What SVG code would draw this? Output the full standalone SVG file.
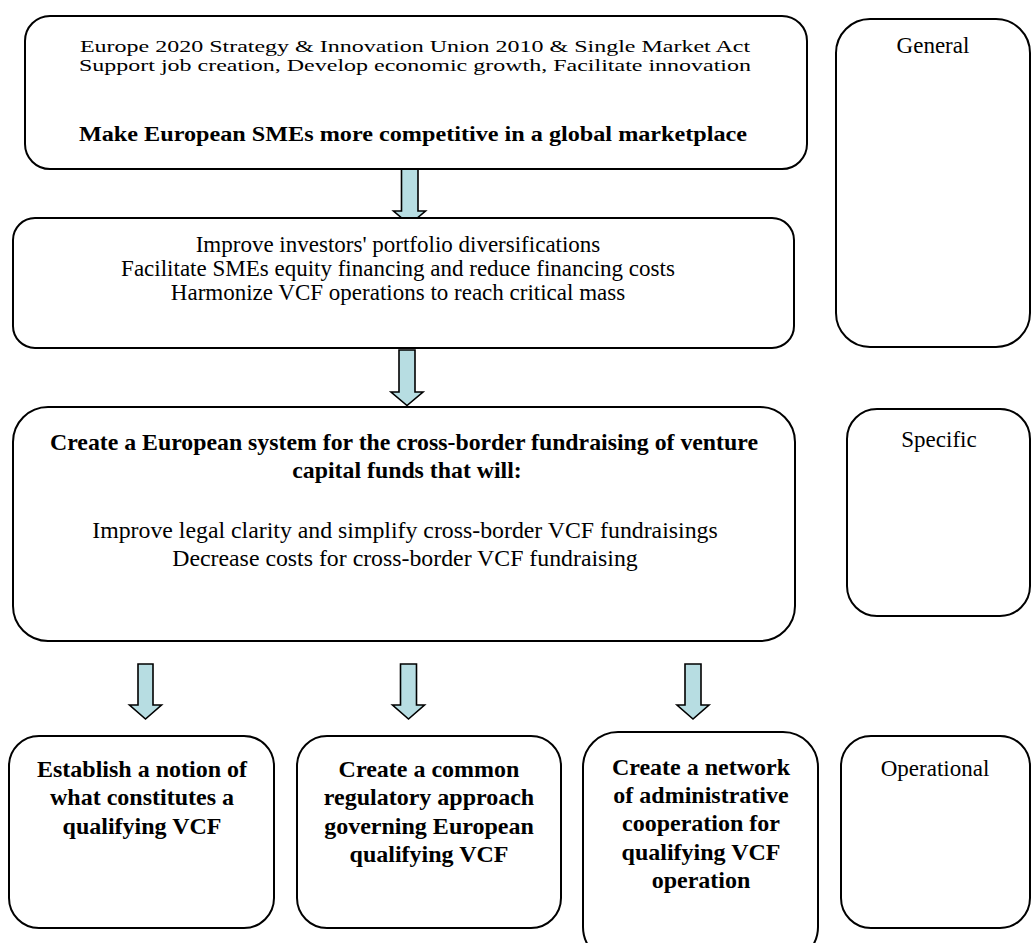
<svg xmlns="http://www.w3.org/2000/svg" width="1036" height="943" viewBox="0 0 1036 943">
<defs>
<style>
.box{fill:#fff;stroke:#000;stroke-width:2}
.arr{fill:#b7dde2;stroke:#000;stroke-width:1.6;stroke-linejoin:miter}
text{font-family:"Liberation Serif","Times New Roman",serif;fill:#000;text-anchor:middle}
.r{font-size:23px}
.b{font-size:24px;font-weight:bold}
.m{font-size:23.8px}
.mb{font-size:23.8px;font-weight:bold}
.top{font-size:16.5px}
</style>
</defs>
<rect width="1036" height="943" fill="#fff"/>
<g id="connectors">
<path class="arr" d="M401.5,169H418V211H425.5L409.5,224.5L393.5,211H401.5Z"/>
<path class="arr" d="M399,350H415V392H423L407,405.5L391,392H399Z"/>
<path class="arr" d="M138,664H153V705H161.5L145.5,719L129.5,705H138Z"/>
<path class="arr" d="M400.5,664H416.5V705H424.5L408.5,719L392.5,705H400.5Z"/>
<path class="arr" d="M685,664H701V705H709L693,719L677,705H685Z"/>
</g>
<g id="general-goal">
<rect class="box" x="25" y="16" width="782" height="153" rx="25"/>
<text class="top" transform="translate(415,52) scale(1.455,1)">Europe 2020 Strategy &amp; Innovation Union 2010 &amp; Single Market Act</text>
<text class="top" transform="translate(415,71) scale(1.455,1)">Support job creation, Develop economic growth, Facilitate innovation</text>
<text style="font-size:22px;font-weight:bold" transform="translate(413,141) scale(1.1,1)">Make European SMEs more competitive in a global marketplace</text>
</g>
<g id="label-general">
<rect class="box" x="836" y="19" width="194" height="328" rx="34"/>
<text class="r" x="933" y="53">General</text>
</g>
<g id="specific-goals">
<rect class="box" x="13" y="218" width="781" height="130" rx="22"/>
<text class="r" x="398" y="252">Improve investors' portfolio diversifications</text>
<text class="r" x="398" y="276">Facilitate SMEs equity financing and reduce financing costs</text>
<text class="r" x="398" y="300">Harmonize VCF operations to reach critical mass</text>
</g>
<g id="european-system">
<rect class="box" x="13" y="407" width="782" height="234" rx="35"/>
<text class="mb" x="404" y="450">Create a European system for the cross-border fundraising of venture</text>
<text class="mb" x="407" y="478">capital funds that will:</text>
<text class="m" x="405" y="538">Improve legal clarity and simplify cross-border VCF fundraisings</text>
<text class="m" x="405" y="566">Decrease costs for cross-border VCF fundraising</text>
</g>
<g id="label-specific">
<rect class="box" x="847" y="409" width="183" height="207" rx="30"/>
<text class="r" x="939" y="447">Specific</text>
</g>
<g id="op-notion">
<rect class="box" x="9" y="736" width="265" height="192" rx="30"/>
<text class="b" x="142" y="777">Establish a notion of</text>
<text class="b" x="142" y="805">what constitutes a</text>
<text class="b" x="142" y="834">qualifying VCF</text>
</g>
<g id="op-regulatory">
<rect class="box" x="297" y="736" width="264" height="192" rx="30"/>
<text class="b" x="429" y="777">Create a common</text>
<text class="b" x="429" y="805">regulatory approach</text>
<text class="b" x="429" y="834">governing European</text>
<text class="b" x="429" y="862">qualifying VCF</text>
</g>
<g id="op-network">
<rect class="box" x="583" y="732" width="235" height="230" rx="35"/>
<text class="b" x="701" y="775">Create a network</text>
<text class="b" x="701" y="803">of administrative</text>
<text class="b" x="701" y="831">cooperation for</text>
<text class="b" x="701" y="860">qualifying VCF</text>
<text class="b" x="701" y="888">operation</text>
</g>
<g id="label-operational">
<rect class="box" x="841" y="736" width="189" height="192" rx="30"/>
<text class="r" x="935" y="776">Operational</text>
</g>
</svg>
